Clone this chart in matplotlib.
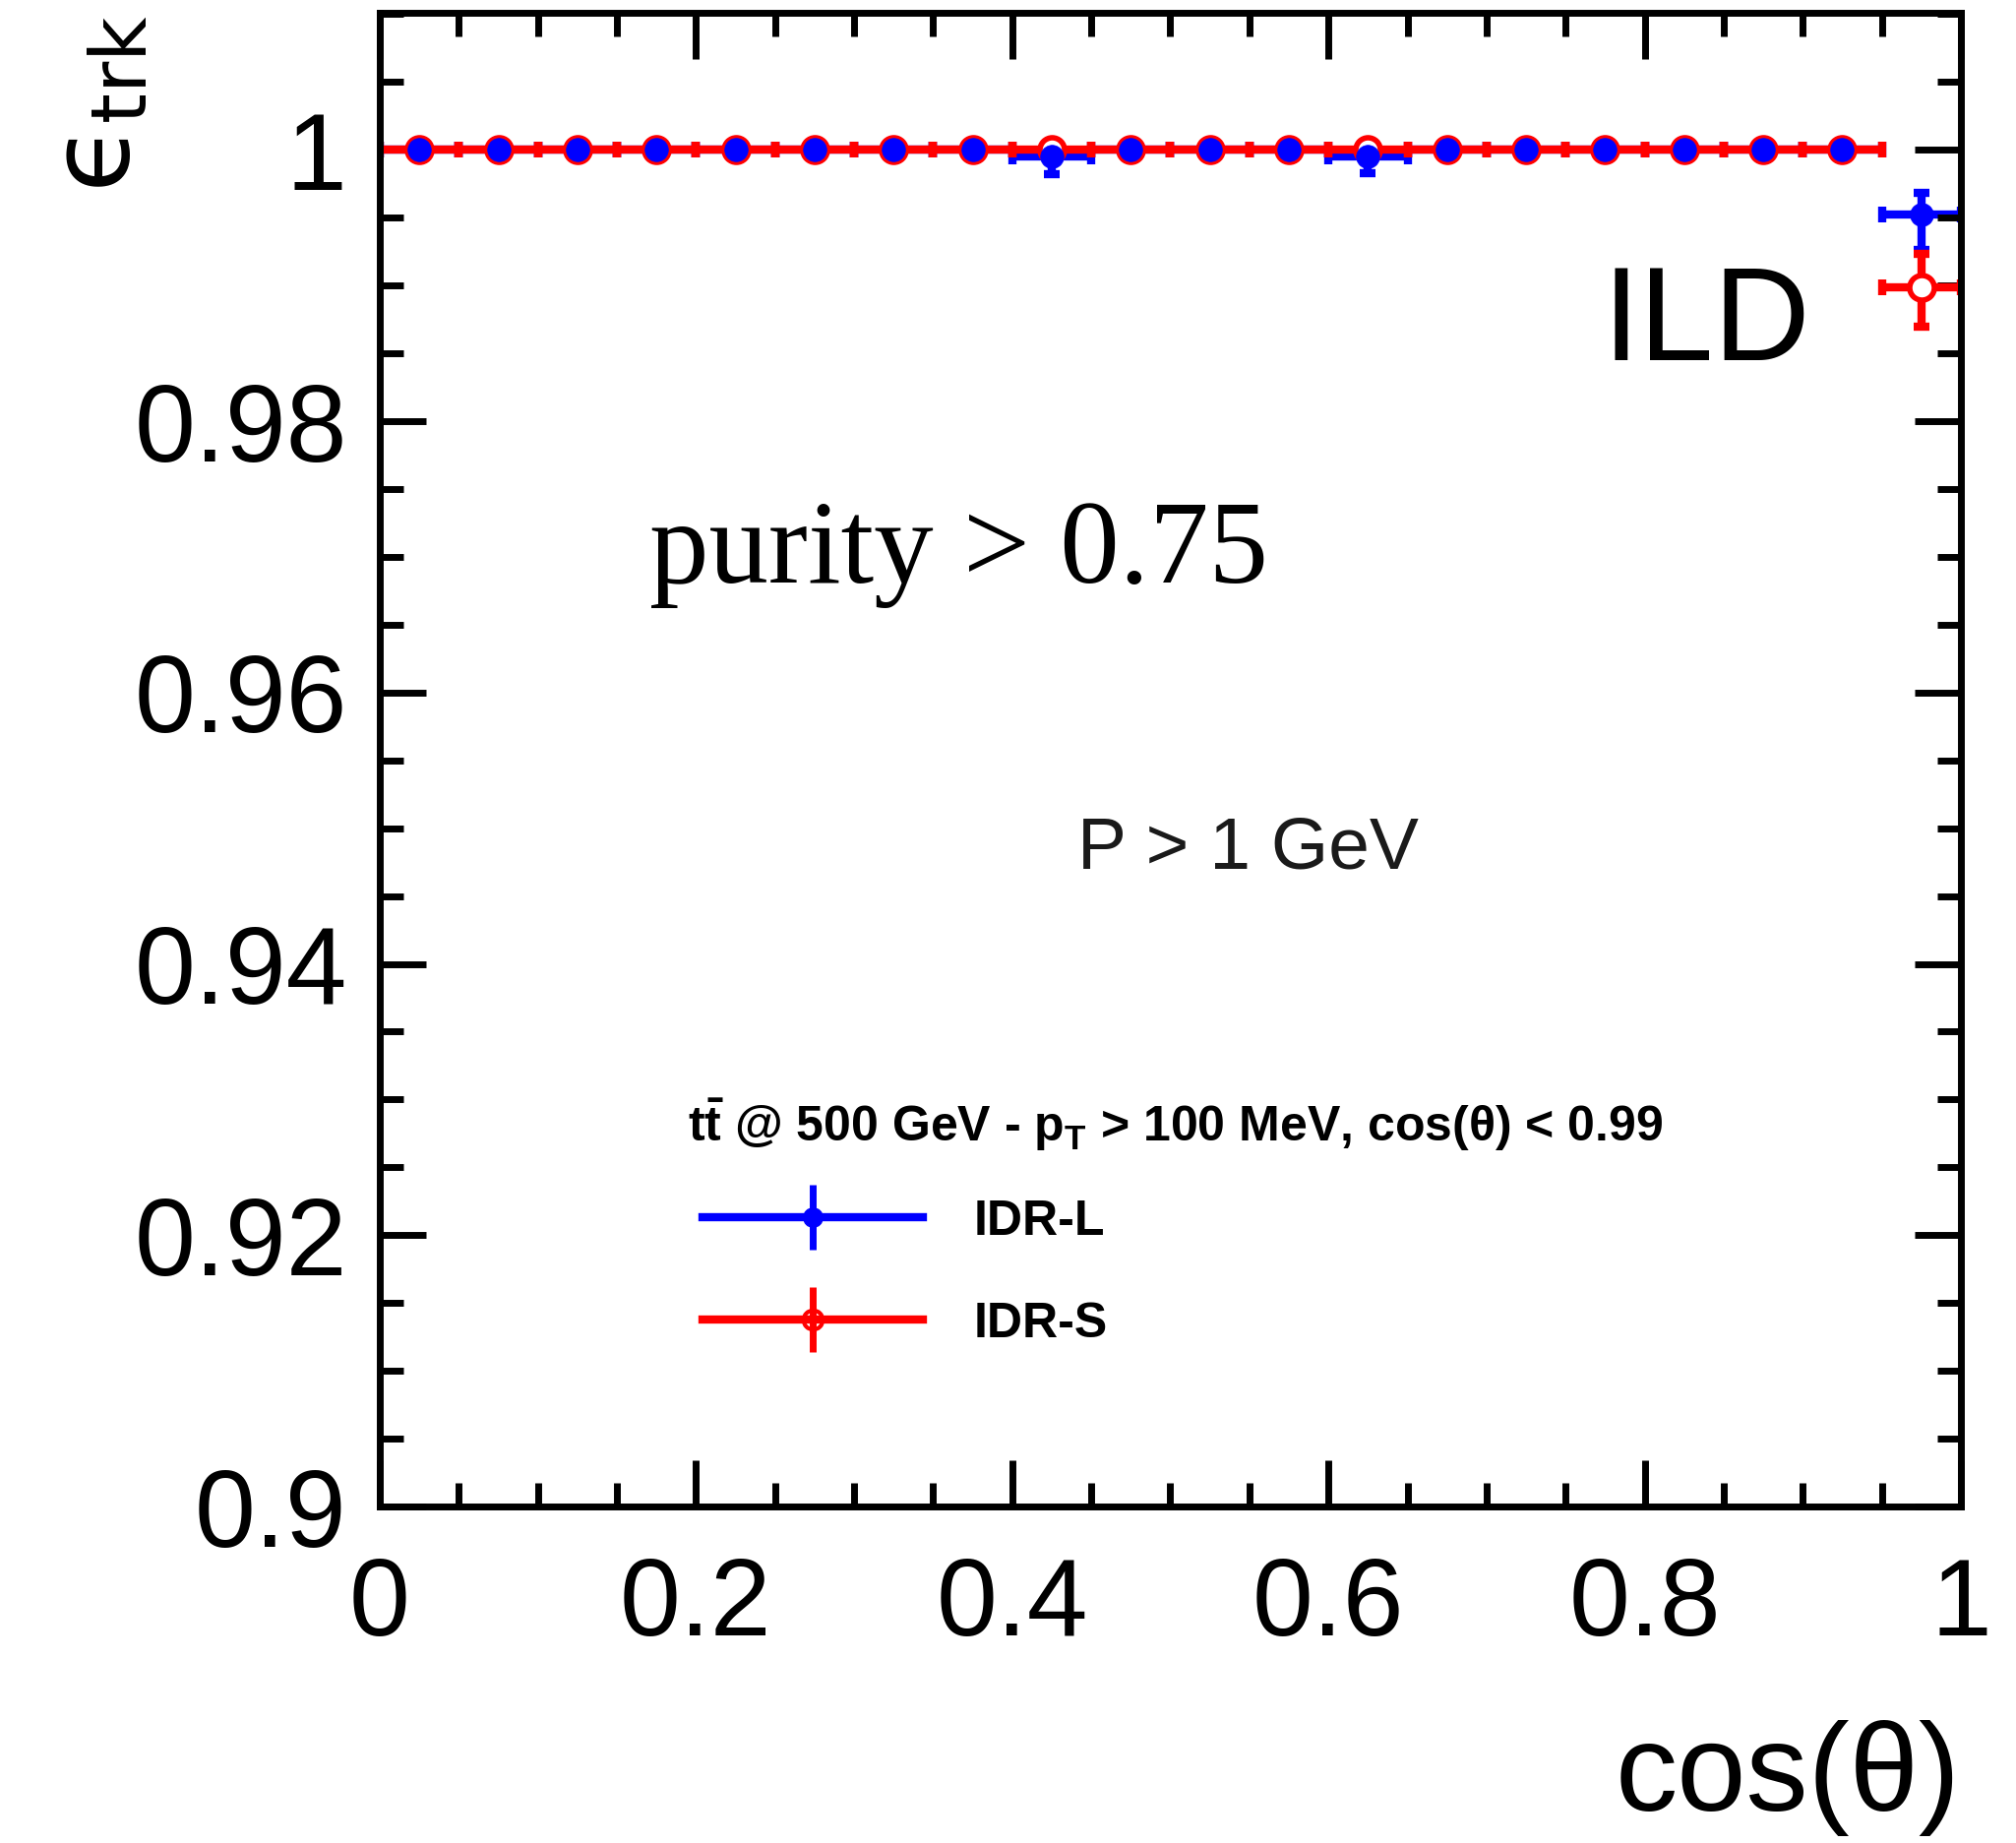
import matplotlib
matplotlib.use("Agg")
import matplotlib.pyplot as plt
from matplotlib.lines import Line2D
from matplotlib.ticker import MultipleLocator, FixedLocator, FuncFormatter

plt.rcParams['font.family'] = ['Liberation Sans', 'DejaVu Sans']
plt.rcParams['mathtext.fontset'] = 'custom'
plt.rcParams['mathtext.rm'] = 'Liberation Sans'
plt.rcParams['mathtext.it'] = 'Liberation Sans:italic'
plt.rcParams['mathtext.bf'] = 'Liberation Sans:bold'

# cos(theta) bin centres and half width
cos_theta = [0.025, 0.075, 0.125, 0.175, 0.225, 0.275, 0.325, 0.375, 0.425, 0.475,
             0.525, 0.575, 0.625, 0.675, 0.725, 0.775, 0.825, 0.875, 0.925, 0.975]
bin_half_width = 0.025

# IDR-L tracking efficiency with asymmetric errors
eff_idr_l = [1.0, 1.0, 1.0, 1.0, 1.0, 1.0, 1.0, 1.0, 0.9995, 1.0,
             1.0, 1.0, 0.9995, 1.0, 1.0, 1.0, 1.0, 1.0, 1.0, 0.9952]
err_lo_idr_l = [0, 0, 0, 0, 0, 0, 0, 0, 0.0013, 0,
                0, 0, 0.0012, 0, 0, 0, 0, 0, 0, 0.0026]
err_hi_idr_l = [0, 0, 0, 0, 0, 0, 0, 0, 0.0005, 0,
                0, 0, 0.0005, 0, 0, 0, 0, 0, 0, 0.0016]

# IDR-S tracking efficiency with asymmetric errors
eff_idr_s = [1.0, 1.0, 1.0, 1.0, 1.0, 1.0, 1.0, 1.0, 1.0, 1.0,
             1.0, 1.0, 1.0, 1.0, 1.0, 1.0, 1.0, 1.0, 1.0, 0.9899]
err_lo_idr_s = [0, 0, 0, 0, 0, 0, 0, 0, 0, 0,
                0, 0, 0, 0, 0, 0, 0, 0, 0, 0.0029]
err_hi_idr_s = [0, 0, 0, 0, 0, 0, 0, 0, 0, 0,
                0, 0, 0, 0, 0, 0, 0, 0, 0, 0.0024]

x_major_ticks = [0, 0.2, 0.4, 0.6, 0.8, 1.0]
y_major_ticks = [0.9, 0.92, 0.94, 0.96, 0.98, 1.0]

BLUE = '#0000ff'
RED = '#ff0000'
LW = 6.0

fig = plt.figure(figsize=(20.49, 18.73), dpi=100)
ax = fig.add_axes([0.18838, 0.18259, 0.78428, 0.81046])

# error bars: blue underneath, red on top
ax.errorbar(cos_theta, eff_idr_l, xerr=bin_half_width,
            yerr=[err_lo_idr_l, err_hi_idr_l], fmt='none', ecolor=BLUE,
            elinewidth=LW, capsize=6, capthick=6, zorder=1)
ax.errorbar(cos_theta, eff_idr_s, xerr=bin_half_width,
            yerr=[err_lo_idr_s, err_hi_idr_s], fmt='none', ecolor=RED,
            elinewidth=LW, capsize=6, capthick=6, zorder=2)
# markers: open red circles, filled blue circles
ax.plot(cos_theta, eff_idr_s, ls='none', marker='o', ms=18, mfc='white',
        mec=RED, mew=4, zorder=3)
ax.plot(cos_theta, eff_idr_l, ls='none', marker='o', ms=17, mfc=BLUE,
        mec=BLUE, mew=0.5, zorder=4)

ax.set_xlim(0, 1)
ax.set_ylim(0.9, 1.0101)

ax.xaxis.set_major_locator(FixedLocator(x_major_ticks))
ax.xaxis.set_minor_locator(MultipleLocator(0.05))
ax.yaxis.set_major_locator(FixedLocator(y_major_ticks))
ax.yaxis.set_minor_locator(MultipleLocator(0.005))
fmt = FuncFormatter(lambda v, p: f'{v:g}')
ax.xaxis.set_major_formatter(fmt)
ax.yaxis.set_major_formatter(fmt)

ax.tick_params(which='both', direction='in', top=True, right=True,
               width=5, colors='black', labelsize=80)
ax.tick_params(which='major', length=34)
ax.tick_params(which='minor', length=17)
ax.tick_params(axis='x', which='major', pad=36)
ax.tick_params(axis='y', which='major', pad=24)
for sp in ax.spines.values():
    sp.set_linewidth(5)

ax.set_xlabel('cos(θ)', fontsize=91, loc='right')
ax.xaxis.set_label_coords(1.0, -0.143)

ax.text(-0.1767, 0.9987, r'$\mathrm{ϵ}_{\mathrm{trk}}$', transform=ax.transAxes,
        rotation=90, ha='center', va='top', fontsize=81,
        math_fontfamily='dejavusans')

ax.text(0.773, 0.7675, 'ILD', transform=ax.transAxes, fontsize=98,
        ha='left', va='baseline', color='black')
ax.text(0.441, 0.4275, 'P > 1 GeV', transform=ax.transAxes, fontsize=54,
        ha='left', va='baseline', color='#1a1a1a')
ax.text(0.1705, 0.6186, 'purity > 0.75', transform=ax.transAxes, fontsize=87,
        ha='left', va='baseline', family='Liberation Serif', color='black')

ax.text(0.1948, 0.2444,
        r'$\mathbf{t\bar{t}}$ @ 500 GeV - $\mathbf{p_{T}}$ > 100 MeV, cos(θ) < 0.99',
        transform=ax.transAxes, fontsize=36, fontweight='bold',
        ha='left', va='baseline')

blue_handle = (Line2D([], [], ls='none', marker='|', ms=47, mew=5, color=BLUE),
               Line2D([], [], color=BLUE, lw=LW, marker='o', ms=14,
                      mfc=BLUE, mec=BLUE))
red_handle = (Line2D([], [], ls='none', marker='|', ms=47, mew=5, color=RED),
              Line2D([], [], color=RED, lw=LW, marker='o', ms=14,
                     mfc='none', mec=RED, mew=3))
leg = ax.legend([blue_handle, red_handle], ['IDR-L', 'IDR-S'],
                loc='upper left', bbox_to_anchor=(0.2041, 0.2057),
                frameon=False, borderpad=0, borderaxespad=0,
                handlelength=4.48, handletextpad=1.04, labelspacing=1.16,
                prop={'weight': 'bold', 'size': 36})

fig.savefig('out.png', dpi=100)
